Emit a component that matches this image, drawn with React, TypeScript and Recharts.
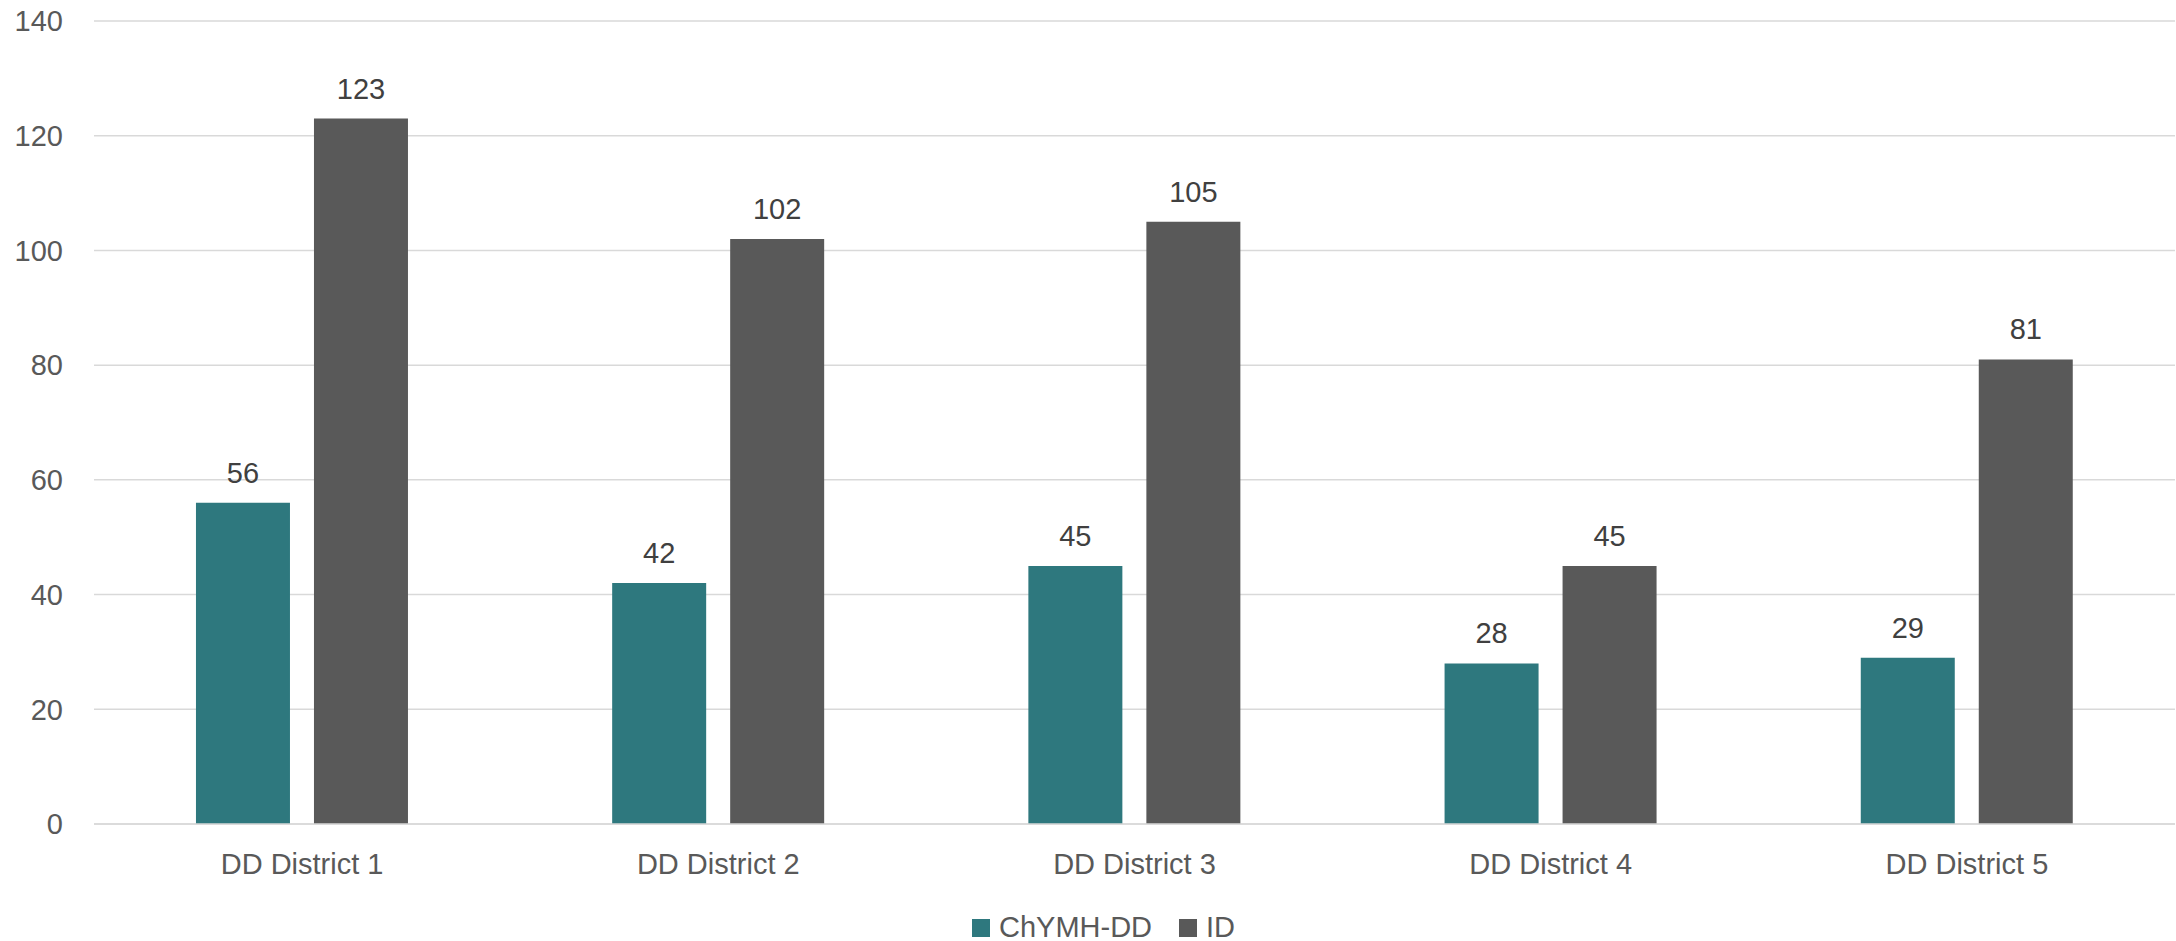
import React from "react";
import { BarChart, Bar, XAxis, YAxis, CartesianGrid, Legend, LabelList } from "recharts";

const categories = ["DD District 1", "DD District 2", "DD District 3", "DD District 4", "DD District 5"];
const chymhValues = [56, 42, 45, 28, 29];
const idValues = [123, 102, 105, 45, 81];
const yTicks = [0, 20, 40, 60, 80, 100, 120, 140];

const seriesNames = ["ChYMH-DD", "ID"];
const colors = ["#2E787E", "#595959"];

const data = categories.map((c, i) => ({ name: c, chymh: chymhValues[i], id: idValues[i] }));

const FONT = "'Liberation Sans', Arial, sans-serif";
const FS = 29;

const renderLegend = () => (
  <div style={{ display: "flex", alignItems: "center", fontFamily: FONT, fontSize: FS, color: "#595959" }}>
    {seriesNames.map((n, i) => (
      <div key={n} style={{ display: "flex", alignItems: "center" }}>
        <div style={{ width: 18, height: 18, background: colors[i], marginRight: 9 }} />
        <span style={{ marginRight: i === 0 ? 27 : 0, lineHeight: "29px", whiteSpace: "nowrap" }}>{n}</span>
      </div>
    ))}
  </div>
);

export default function App() {
  return (
    <div style={{ position: "absolute", left: 0, top: 0, background: "#fff" }}>
      <BarChart
        width={2176}
        height={941}
        data={data}
        margin={{ top: 21, right: 1, bottom: 0, left: 0 }}
        barGap={24}
        barCategoryGap="24.5%"
      >
        <CartesianGrid vertical={false} stroke="#D9D9D9" strokeWidth={1.5} />
        <XAxis
          dataKey="name"
          axisLine={{ stroke: "#D9D9D9", strokeWidth: 1.5 }}
          tickLine={false}
          tickSize={0}
          tickMargin={29}
          tick={{ fill: "#595959", fontSize: FS, fontFamily: FONT }}
          height={117}
        />
        <YAxis
          width={94}
          domain={[0, 140]}
          ticks={yTicks}
          axisLine={false}
          tickLine={false}
          tickSize={0}
          tickMargin={31}
          tick={{ fill: "#595959", fontSize: FS, fontFamily: FONT }}
          interval={0}
        />
        <Legend
          content={renderLegend}
          layout="vertical"
          align="center"
          verticalAlign="middle"
          wrapperStyle={{ left: 972, top: 913, width: "auto", bottom: "auto" }}
        />
        <Bar dataKey="chymh" name={seriesNames[0]} fill={colors[0]} isAnimationActive={false}>
          <LabelList dataKey="chymh" position="top" offset={20} fill="#404040" fontSize={FS} fontFamily={FONT} />
        </Bar>
        <Bar dataKey="id" name={seriesNames[1]} fill={colors[1]} isAnimationActive={false}>
          <LabelList dataKey="id" position="top" offset={20} fill="#404040" fontSize={FS} fontFamily={FONT} />
        </Bar>
      </BarChart>
    </div>
  );
}
